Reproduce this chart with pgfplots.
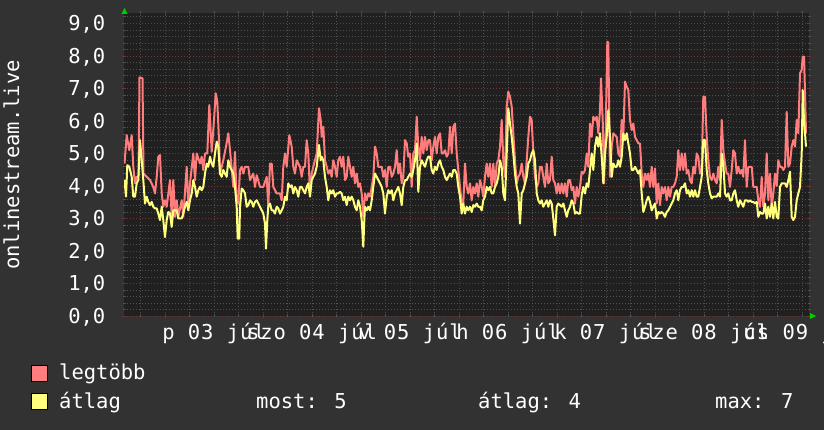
\documentclass[border=0pt]{standalone}
\usepackage{fontspec}
\setmainfont{DejaVu Sans Mono}
\newfontfamily\xfont[LetterSpace=4.5]{DejaVu Sans Mono}
\usepackage{pgfplots}
\usepackage{pgfplotstable}
\pgfplotsset{compat=1.18}
\definecolor{bgcol}{RGB}{50,50,50}
\definecolor{plotbg}{RGB}{32,32,32}
\definecolor{gridred}{RGB}{120,48,48}
\definecolor{gridgray}{RGB}{80,80,80}
\definecolor{redline}{RGB}{255,125,125}
\definecolor{yelline}{RGB}{255,255,125}
\definecolor{arrowgreen}{RGB}{0,204,0}

\pgfplotstableread{
x y
124.5 4.69
126.7 5.56
129.3 5.10
131.7 5.56
133.3 4.59
135 4.08
136.7 4.28
138.5 4.30
139.5 7.34
142.5 7.31
143.5 4.38
146.7 4.28
150 4.18
153.3 3.97
155 3.77
156.7 4.28
158.3 4.90
160 4.95
161.7 3.77
163.3 3.36
165 3.56
166.7 3.36
170 4.18
171.7 3.05
173.3 4.18
175 3.05
176.7 3.56
178.3 3.05
181.7 3.56
183.3 3.05
186.7 4.59
188.3 3.36
190 4.08
193.3 5.00
195 4.18
196.7 5.00
200 4.69
201.7 4.90
203.3 4.49
205 5.00
207.3 5.00
209.3 6.49
211.7 5.05
214 6.03
215.7 6.85
217.3 6.59
219 5.41
220 4.38
223.3 4.79
226 5.21
228.3 5.62
230 5.10
233.3 3.97
235 5.05
236.7 3.56
238.3 3.46
240 4.49
241.7 4.59
243.3 4.38
245 4.59
248.3 4.59
250 4.18
253.3 4.38
255 3.97
256.7 4.33
260 3.97
263.3 3.97
266.7 4.28
268.3 3.36
270 4.69
271.7 4.69
273.3 3.97
276.7 3.77
280 3.77
281.7 3.56
283.3 4.59
285 5.00
286.7 4.59
289.3 5.56
291.7 5.21
293.3 4.59
295 4.38
296.7 4.79
300 4.59
301.7 4.28
303.3 4.59
305 4.59
306.7 5.41
308.3 5.00
310 3.77
311.7 4.38
313.3 4.59
316.7 5.00
319 6.39
320.7 6.03
321.7 5.51
323.3 5.82
325 4.79
326.7 4.59
328.3 4.38
330 4.49
331.7 4.28
333.3 4.79
335 4.59
336.7 4.28
338.3 4.79
340 4.90
341.7 4.59
343.3 4.90
345 4.18
346.7 4.28
348.3 4.90
350 4.59
351.7 4.28
353.3 4.59
355 4.08
356.7 4.38
358.3 3.97
360 4.08
361.7 3.77
363.3 3.05
365 3.77
366.7 3.56
368.3 3.77
370 3.67
371.7 3.97
373.3 4.28
375 5.21
376.7 5.00
378.3 4.59
380 4.59
381.7 4.59
383.3 4.28
385 4.49
386.7 3.97
388.3 4.59
390 4.59
391.7 4.28
393.3 4.38
395 4.59
396.7 5.10
398.3 4.38
400 4.69
401.7 4.08
403.3 4.28
405 5.41
406.7 5.31
408.3 4.90
410 5.00
411.7 3.97
413.3 5.00
415 5.10
416.7 6.13
418.3 5.21
420 4.79
421.7 5.51
423.3 5.00
425 5.51
426.7 5.10
428.3 5.41
430 5.41
431.7 4.79
433.3 5.21
435 5.51
436.7 5.00
438.3 5.51
440 5.62
441.7 5.00
443.3 5.00
445 5.10
446.7 4.90
448.3 5.00
450 5.82
451.7 5.00
453.3 5.82
455 5.92
456.7 5.00
458.3 4.49
460 3.97
461.7 3.46
463.3 3.46
465 4.69
466.7 3.97
468.3 3.77
470 4.08
471.7 3.56
473.3 3.97
475 3.77
476.7 4.08
478.3 3.67
480 4.18
481.7 3.97
483.3 3.67
485 4.28
486.7 4.69
488.3 4.28
490 4.69
491.7 3.97
493.3 4.69
495 3.97
496.7 4.69
498.3 4.79
500 5.21
501.7 6.03
503.3 4.79
505 4.28
506.7 6.44
508.3 6.90
510 6.74
511.7 6.44
513.3 5.62
515 4.79
516.7 4.08
518.3 4.28
520 4.38
521.7 4.69
523.3 4.28
525 4.08
526.7 4.79
528.3 5.51
530 6.13
531.7 6.03
533.3 5.00
535 4.28
536.7 3.97
538.3 4.08
540 4.59
541.7 4.59
543.3 4.28
545 3.97
546.7 4.69
548.3 4.08
550 4.18
551.7 4.90
553.3 4.18
555 4.08
556.7 3.77
558.3 4.08
560 3.77
561.7 4.08
563.3 3.77
565 4.08
566.7 3.67
568.3 4.18
570 4.18
571.7 3.87
573.3 3.97
575 3.46
576.7 3.97
578.3 3.67
580 3.97
581.7 4.44
583.3 4.38
585 4.49
586.7 5.00
588.3 4.59
590 5.92
591.7 5.51
593.3 6.13
595 6.03
596.7 6.13
598.3 5.62
600 6.33
601 7.31
602.7 6.03
604 4.08
605.7 5.62
607.3 8.44
608.3 8.41
610 4.28
611.7 5.21
613.3 5.62
615 5.56
616.7 5.51
618.3 5.00
620 4.90
621.7 6.03
623.3 5.51
625 7.21
626.7 7.05
628.3 6.95
630 6.03
631.7 5.72
633.3 5.92
635 5.51
636.7 5.41
638.3 5.31
640 5.31
641.7 4.38
643.3 3.97
645 4.38
646.7 4.18
648.3 4.38
650 3.97
651.7 4.59
653.3 3.97
655 4.54
656.7 3.46
658.3 4.08
660 3.41
661.7 3.97
663.3 3.77
665 3.97
666.7 3.56
668.3 3.97
670 3.67
671.7 3.97
673.3 3.97
675 4.08
676.7 4.28
678.3 5.10
680 4.49
681.7 5.00
683.3 4.49
685 5.00
686.7 4.38
688.3 4.49
690 4.18
691.7 4.08
693.3 4.59
695 4.38
696.7 5.00
698.3 4.90
700 4.38
701.7 4.44
703.3 6.75
705 6.75
706.7 5.51
708.3 4.79
710 4.28
711.7 4.18
713.3 4.38
715 4.18
716.7 4.08
718.3 4.59
720 4.18
721.7 6.03
723.3 5.10
725 4.69
726.7 4.38
728.3 4.38
730 3.97
731.7 4.49
733.3 5.10
735 5.00
736.7 4.38
738.3 4.59
740 4.38
741.7 4.49
743.3 4.28
745 5.41
746.7 3.97
748.3 4.59
750 4.59
751.7 4.59
753.3 3.97
755 3.97
756.7 3.97
758.3 3.56
760 3.36
761.7 4.28
763.3 3.36
765 3.77
766.7 5.00
768.3 3.56
770 4.38
771.7 3.36
773.3 3.77
775 4.38
776.7 4.00
778.3 4.79
780 4.59
781.7 4.59
783.3 4.49
785 4.59
786.7 6.28
788.3 4.59
790 4.69
791.7 5.21
793.3 5.41
795 5.21
796.7 6.03
798.3 5.62
800 7.46
801.7 7.57
802.7 7.98
804 7.98
805 6.89
806 5.62
}\legtobb

\pgfplotstableread{
x y
124.5 4.18
126 3.67
127.3 4.64
129.3 4.59
131.7 4.28
133.3 3.67
135 3.67
136.7 4.08
138.3 4.18
140 5.41
141.7 4.79
143.3 4.18
145 3.46
146.7 3.67
148.3 3.51
150 3.41
151.7 3.51
153.3 3.36
155 3.31
156.7 3.31
158.3 3.15
160 2.95
161.7 3.36
163.3 2.95
165 2.43
166.7 2.95
168.3 3.20
170 3.15
171.7 2.74
173.3 3.25
175 3.25
176.7 3.25
178.3 3.00
180 3.00
181.7 3.00
183.3 3.15
185 3.36
186.7 3.51
188.3 3.25
190 3.56
191.7 3.77
193.3 4.18
195 3.97
196.7 3.67
198.3 3.87
200 3.97
201.7 3.87
203.3 3.97
205 4.38
206.7 4.69
208.3 4.59
210 4.90
211.7 4.69
213.3 4.59
215 5.00
216.7 5.36
218.3 5.21
220 4.38
221.7 4.28
223.3 4.49
225 4.38
226.7 4.28
228.3 4.79
230 4.59
233.3 4.38
235 3.97
236.7 3.36
237.7 2.38
239.3 2.38
240 3.36
241.7 3.92
243.3 3.87
245 3.77
246.7 3.36
248.3 3.41
250 3.56
251.7 3.51
253.3 3.36
255 3.51
256.7 3.56
258.3 3.46
260 3.36
261.7 3.25
263.3 3.15
265 2.84
266 2.07
267.3 2.95
268.3 3.36
270 3.46
271.7 3.25
273.3 3.25
275 3.15
276.7 3.36
278.3 3.31
280 3.15
281.7 3.25
283.3 3.36
285 3.67
286.7 3.56
288.3 4.08
290 3.97
291.7 4.02
293.3 3.77
295 3.97
296.7 3.87
298.3 3.67
300 3.97
301.7 3.97
303.3 3.87
305 3.77
306.7 3.97
308.3 4.08
310 3.67
311.7 4.18
313.3 4.28
315 4.38
316.7 4.59
319 5.26
320.7 4.79
321.7 4.90
323.3 4.79
325 4.28
326.7 3.97
328.3 3.56
330 3.87
331.7 3.77
333.3 3.87
335 3.67
336.7 3.77
338.3 3.77
340 3.82
341.7 3.77
343.3 3.56
345 3.67
346.7 3.41
348.3 3.67
350 3.56
351.7 3.67
353.3 3.56
355 3.36
356.7 3.25
358.3 3.56
360 3.36
361.7 2.95
363.3 2.13
364.3 2.95
365 3.36
366.7 3.25
368.3 3.36
370 3.25
371.7 3.56
373.3 3.97
375 4.38
376.7 4.28
378.3 4.18
380 4.08
381.7 3.97
383.3 3.77
385 3.15
386.7 3.67
388.3 3.87
390 3.77
391.7 3.87
393.3 3.56
395 3.77
396.7 3.87
398.3 3.97
400 3.77
401.7 3.41
403.3 3.97
405 4.18
406.7 4.18
408.3 4.28
410 4.38
411.7 4.28
413.3 4.49
415 4.79
416.7 5.31
418.3 3.82
420 4.59
421.7 4.79
423.3 4.69
425 4.59
426.7 4.79
428.3 4.90
430 4.90
431.7 4.49
433.3 4.38
435 4.59
436.7 4.49
438.3 4.69
440 4.79
441.7 4.59
443.3 4.49
445 4.28
446.7 4.18
448.3 4.28
450 4.38
451.7 4.28
453.3 4.49
455 4.49
456.7 4.38
458.3 3.97
460 3.67
461.7 3.15
463.3 3.46
465 3.15
466.7 3.36
468.3 3.25
470 3.36
471.7 3.20
473.3 3.41
475 3.36
476.7 3.46
478.3 3.36
480 3.36
481.7 3.25
483.3 3.56
485 3.67
486.7 3.97
488.3 3.87
490 3.97
491.7 3.77
493.3 3.77
495 3.97
496.7 4.08
498.3 4.28
500 4.79
501.7 4.59
503.3 3.77
505 3.56
506.7 5.00
508.3 6.39
510 5.92
511.7 5.51
513.3 5.00
515 4.38
516.7 3.97
518.3 3.77
520 2.84
521.7 3.77
523.3 3.87
525 4.08
526.7 4.28
528.3 4.69
530 4.79
531.7 5.00
533.3 5.10
535 4.79
536.7 3.77
538.3 3.56
540 3.46
541.7 3.56
543.3 3.36
545 3.46
546.7 3.56
548.3 3.36
550 3.56
551.7 3.46
553.3 3.00
555 2.48
556.7 3.36
558.3 3.46
560 3.41
561.7 3.36
563.3 3.46
565 3.25
566.7 3.05
568.3 3.25
570 3.36
571.7 3.56
573.3 3.46
575 3.15
576.7 3.20
578.3 3.15
580 3.15
581.7 3.72
583.3 3.97
585 3.77
586.7 4.08
588.3 3.97
590 4.49
591.7 5.00
593.3 4.49
595 5.21
596.7 5.51
598.3 5.21
600 5.62
601.7 4.90
603.3 4.08
605 5.00
606.7 5.51
608.3 6.33
610 5.51
611.7 4.28
613.3 4.69
615 4.59
616.7 4.59
618.3 4.79
620 4.59
621.7 4.90
623.3 5.62
625 5.41
626.7 5.62
628.3 5.31
630 5.00
631.7 4.49
633.3 4.49
635 4.59
636.7 4.49
638.3 4.38
640 4.49
641.7 3.77
643.3 3.20
645 3.36
646.7 3.56
648.3 3.67
650 3.51
651.7 3.25
653.3 3.36
655 3.46
656.7 3.00
658.3 3.20
660 3.15
661.7 3.20
663.3 3.15
665 3.05
666.7 3.20
668.3 3.25
670 3.36
671.7 3.46
673.3 3.56
675 3.77
676.7 3.87
678.3 3.56
680 3.87
681.7 3.97
683.3 3.97
685 4.08
686.7 3.77
688.3 3.87
690 3.67
691.7 3.87
693.3 3.67
695 3.87
696.7 3.67
698.3 3.67
700 3.97
701.7 4.28
703.3 5.41
705 5.41
706.7 4.49
708.3 4.08
710 3.77
711.7 3.62
713.3 3.67
715 3.67
716.7 3.67
718.3 3.77
720 3.67
721.7 5.00
723.3 4.69
725 3.77
726.7 3.67
728.3 3.77
730 3.56
731.7 3.56
733.3 3.77
735 3.87
736.7 3.56
738.3 3.36
740 3.56
741.7 3.46
743.3 3.36
745 3.56
746.7 3.56
748.3 3.51
750 3.56
751.7 3.51
753.3 3.51
755 3.46
756.7 3.51
758.3 3.05
760 3.20
761.7 3.15
763.3 3.15
765 3.46
766.7 3.00
768.3 3.36
770 3.05
771.7 3.46
773.3 3.00
775 3.51
776.7 3.05
778.3 3.00
780 3.97
781.7 4.08
783.3 4.08
785 4.08
786.7 3.97
788.3 4.18
790 4.44
791.7 3.05
793.3 2.95
795 3.05
796.7 3.56
798.3 3.77
800 3.97
801.7 5.00
802.7 6.95
804 6.03
806 5.21
}\atlag

\begin{document}
\begin{tikzpicture}[font=\fontsize{20.5bp}{24bp}\selectfont, text=white]
\fill[bgcol] (0,0) rectangle (824bp,430bp);
\begin{axis}[
  at={(124bp,114bp)}, anchor=south west,
  scale only axis, width=685bp, height=303bp,
  xmin=124, xmax=809, ymin=0, ymax=9.32,
  axis line style={draw=none},
  axis background/.style={fill=plotbg},
  xtick={165,263,361,459,557,655,753},
  xticklabels={p 03 júl,szo 04 júl,v 05 júl,h 06 júl,k 07 júl,sze 08 júl,cs 09 júl},
  minor xtick={140.5,189.5,214,238.5,287.5,312,336.5,385.5,410,434.5,483.5,508,532.5,581.5,606,630.5,679.5,704,728.5,777.5,802},
  ytick={0,1,2,3,4,5,6,7,8,9},
  yticklabels={{0,0},{1,0},{2,0},{3,0},{4,0},{5,0},{6,0},{7,0},{8,0},{9,0}},
  minor ytick={0.2,0.4,0.6,0.8,1.2,1.4,1.6,1.8,2.2,2.4,2.6,2.8,3.2,3.4,3.6,3.8,4.2,4.4,4.6,4.8,5.2,5.4,5.6,5.8,6.2,6.4,6.6,6.8,7.2,7.4,7.6,7.8,8.2,8.4,8.6,8.8,9.2},
  grid=both,
  major grid style={draw=gridred, line width=0.8bp, dash pattern=on 1bp off 2bp},
  minor grid style={draw=gridgray, line width=0.8bp, dash pattern=on 1bp off 2bp},
  major tick style={draw=gridred, line width=0.8bp},
  minor tick style={draw=gridgray, line width=0.8bp},
  major tick length=4bp, minor tick length=3bp,
  tick align=center,
  xticklabel style={font=\xfont\fontsize{20.5bp}{24bp}\selectfont, text=white, anchor=base, xshift=49bp, yshift=-22bp, inner sep=0pt},
  yticklabel style={text=white, anchor=base east, xshift=-16.5bp, yshift=-7.5bp, inner sep=0pt},
  clip=true,
]
\addplot[redline, line width=2bp, line join=round, no markers] table[x=x,y=y] {\legtobb};
\addplot[yelline, line width=2bp, line join=round, no markers] table[x=x,y=y] {\atlag};
\end{axis}
% axis arrows
\fill[arrowgreen] (121.5bp,416bp) -- (127.5bp,416bp) -- (124.5bp,422bp) -- cycle;
\fill[arrowgreen] (810bp,117bp) -- (810bp,111bp) -- (816bp,114bp) -- cycle;
% y label
\node[rotate=90, anchor=base, inner sep=0pt] at (19bp,265bp) {onlinestream.live};
% legend
\filldraw[fill=redline, draw=black, line width=0.8bp] (31.5bp,48.5bp) rectangle (47.5bp,64.5bp);
\filldraw[fill=yelline, draw=black, line width=0.8bp] (31.5bp,20.5bp) rectangle (47.5bp,36.5bp);
\node[anchor=base west, inner sep=0pt] at (59bp,50bp) {legtöbb};
\node[anchor=base west, inner sep=0pt] at (59bp,22bp) {átlag};
\node[anchor=base west, inner sep=0pt] at (256bp,22bp) {most: 5};
\node[anchor=base west, inner sep=0pt] at (478bp,22bp) {átlag: 4};
\node[anchor=base west, inner sep=0pt] at (715bp,22bp) {max: 7};
\pgfresetboundingbox
\path[use as bounding box] (0,0) rectangle (824bp,430bp);
\end{tikzpicture}
\end{document}
